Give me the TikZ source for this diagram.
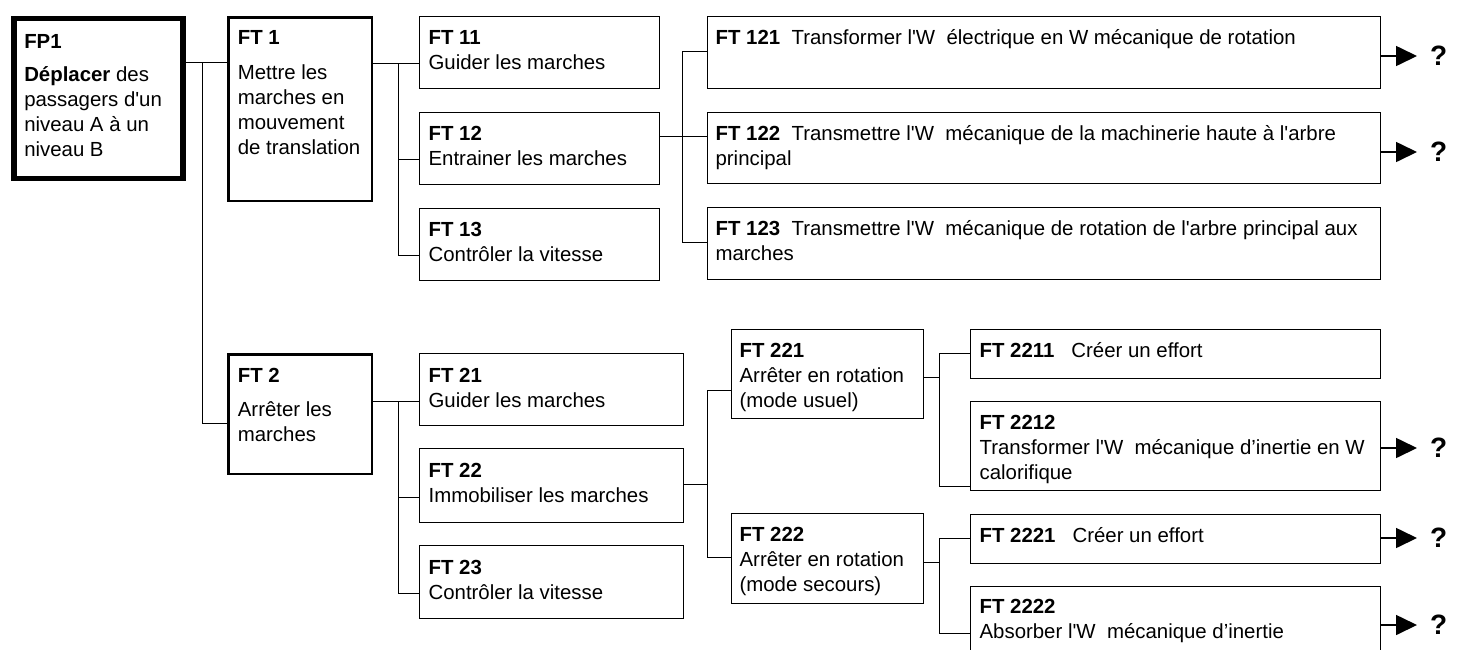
\documentclass[tikz,border=0pt]{standalone}
\usepackage{fontspec}
\newfontfamily\arial{Liberation Sans}
\usepackage{tikz}
\usetikzlibrary{arrows.meta}
\newcommand{\fsize}{\arial\fontsize{20.4}{25}\selectfont}
\newcommand{\ftext}[5][9]{\parbox[t][#3pt][t]{#2pt}{\leftskip=#1pt\rightskip=-40pt plus 1fil\rule{0pt}{#4pt}#5}}
\tikzstyle{func} = [draw=black, line width=1.2pt, inner sep=0pt, anchor=north west, font=\fsize]
\tikzstyle{mainfunc} = [func, line width=2.3pt]
\tikzstyle{primfunc} = [func, line width=5.5pt]
\tikzstyle{link} = [draw=black, line width=1pt]
\tikzstyle{outarrow} = [draw=black, line width=1.6pt, -{Triangle[length=21pt,width=20pt]}, shorten >=13pt]
\tikzstyle{qmark} = [anchor=west, inner sep=0pt, font=\arial\fontsize{28}{30}\selectfont\bfseries]

\begin{document}
\begin{tikzpicture}[x=1pt, y=-1pt]
    \useasboundingbox (0,0) rectangle (1461,649);
    \fill [white] (0,0) rectangle (1461,649);

    \node (fp1) [primfunc] at (11,15.7) {\ftext[10.5]{169}{160}{30}{\textbf{FP1}\\[8pt]\textbf{Déplacer} des\\passagers d'un\\niveau A à un\\niveau B}};
    \node (ft1) [mainfunc] at (227.2,16.2) {\ftext[9.5]{143.6}{183.6}{27}{\textbf{FT 1}\\[10pt]Mettre les\\marches en\\mouvement\\de translation}};
    \node (ft2) [mainfunc] at (227.2,353.2) {\ftext[9.5]{143.6}{119.6}{28.5}{\textbf{FT 2}\\[9pt]Arrêter les\\marches}};

    \node (ft11) [func] at (419,16) {\ftext{240}{72}{28}{\textbf{FT 11}\\Guider les marches}};
    \node (ft12) [func] at (419,112) {\ftext{240}{72}{28}{\textbf{FT 12}\\Entrainer les marches}};
    \node (ft13) [func] at (419,208) {\ftext{240}{72}{28}{\textbf{FT 13}\\Contrôler la vitesse}};

    \node (ft121) [func] at (707,16) {\ftext[8]{673}{72}{27.5}{\textbf{FT 121}~ Transformer l'W~ électrique en W mécanique de rotation}};
    \node (ft122) [func] at (707,112) {\ftext[8]{673}{71}{27.5}{\textbf{FT 122}~ Transmettre l'W~ mécanique de la machinerie haute à l'arbre\\principal}};
    \node (ft123) [func] at (707,207) {\ftext[8]{673}{72}{27.5}{\textbf{FT 123}~ Transmettre l'W~ mécanique de rotation de l'arbre principal aux\\marches}};

    \node (ft21) [func] at (419,353) {\ftext{264}{72}{29}{\textbf{FT 21}\\Guider les marches}};
    \node (ft22) [func] at (419,448) {\ftext{264}{74}{29}{\textbf{FT 22}\\Immobiliser les marches}};
    \node (ft23) [func] at (419,545) {\ftext{264}{73}{29}{\textbf{FT 23}\\Contrôler la vitesse}};

    \node (ft221) [func] at (731,329) {\ftext[8]{192}{89}{28}{\textbf{FT 221}\\Arrêter en rotation\\(mode usuel)}};
    \node (ft222) [func] at (731,513) {\ftext[8]{192}{90}{28}{\textbf{FT 222}\\Arrêter en rotation\\(mode secours)}};

    \node (ft2211) [func] at (970,329) {\ftext{410}{49}{28}{\textbf{FT 2211}~~ Créer un effort}};
    \node (ft2212) [func] at (970,401) {\ftext{410}{89}{28}{\textbf{FT 2212}\\Transformer l'W~ mécanique d’inertie en W\\calorifique}};
    \node (ft2221) [func] at (970,514) {\ftext{410}{49}{28}{\textbf{FT 2221}~~ Créer un effort}};
    \node (ft2222) [func] at (970,586) {\ftext{410}{78}{27}{\textbf{FT 2222}\\Absorber l'W~ mécanique d’inertie}};

    \node (q121) [qmark] at (1430,56) {?};
    \node (q122) [qmark] at (1430,152) {?};
    \node (q2212) [qmark] at (1430,448) {?};
    \node (q2221) [qmark] at (1430,538) {?};
    \node (q2222) [qmark] at (1430,625) {?};

    \coordinate (b0) at (202,62);
    \coordinate (b1) at (398,63);
    \coordinate (b12) at (682,136);
    \coordinate (b2) at (398,401);
    \coordinate (b22) at (707,484);
    \coordinate (b221) at (939,377);
    \coordinate (b222) at (939,562);

    \draw [link] (fp1.east |- b0) -- (ft1.west |- b0);
    \draw [link] (b0) |- (ft2.west |- 0,423);

    \draw [link] (ft1.east |- b1) -- (ft11.west |- b1);
    \draw [link] (b1) |- (ft12.west |- 0,159);
    \draw [link] (b1) |- (ft13.west |- 0,255);

    \draw [link] (ft12.east |- b12) -- (ft122.west |- b12);
    \draw [link] (b12) |- (ft121.west |- 0,51);
    \draw [link] (b12) |- (ft123.west |- 0,242);

    \draw [link] (ft2.east |- b2) -- (ft21.west |- b2);
    \draw [link] (b2) |- (ft22.west |- 0,497);
    \draw [link] (b2) |- (ft23.west |- 0,593);

    \draw [link] (ft22.east |- b22) -- (b22);
    \draw [link] (b22) |- (ft221.west |- 0,390);
    \draw [link] (b22) |- (ft222.west |- 0,557);

    \draw [link] (ft221.east |- b221) -- (b221);
    \draw [link] (b221) |- (ft2211.west |- 0,353);
    \draw [link] (b221) |- (ft2212.west |- 0,486);

    \draw [link] (ft222.east |- b222) -- (b222);
    \draw [link] (b222) |- (ft2221.west |- 0,538);
    \draw [link] (b222) |- (ft2222.west |- 0,633);

    \draw [outarrow] (ft121.east |- q121) -- (q121);
    \draw [outarrow] (ft122.east |- q122) -- (q122);
    \draw [outarrow] (ft2212.east |- q2212) -- (q2212);
    \draw [outarrow] (ft2221.east |- q2221) -- (q2221);
    \draw [outarrow] (ft2222.east |- q2222) -- (q2222);
\end{tikzpicture}
\end{document}
